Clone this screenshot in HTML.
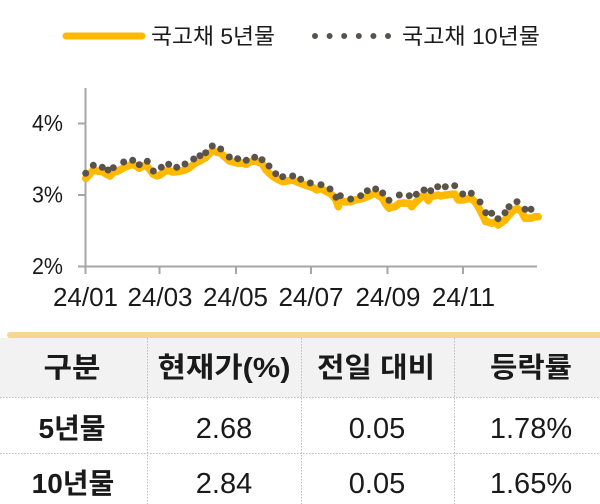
<!DOCTYPE html>
<html><head><meta charset="utf-8"><style>
html,body{margin:0;padding:0;background:#fff;}
svg{display:block;}
text{font-family:"Liberation Sans","Noto Sans CJK KR",sans-serif;fill:#1a1a1a;}
</style></head><body>
<svg width="600" height="504" viewBox="0 0 600 504" xmlns="http://www.w3.org/2000/svg">
<rect width="600" height="504" fill="#fff"/>
<!-- legend -->
<line x1="66" y1="36" x2="142" y2="36" stroke="#ffb900" stroke-width="7" stroke-linecap="round"/>
<text x="151" y="44" font-size="22" textLength="124" lengthAdjust="spacingAndGlyphs">국고채 5년물</text>
<g fill="#5a534b">
<circle cx="315" cy="36" r="3"/><circle cx="329.6" cy="36" r="3"/><circle cx="344.2" cy="36" r="3"/><circle cx="358.8" cy="36" r="3"/><circle cx="373.4" cy="36" r="3"/><circle cx="388" cy="36" r="3"/>
</g>
<text x="402" y="44" font-size="22" textLength="138" lengthAdjust="spacingAndGlyphs">국고채 10년물</text>

<!-- axes -->
<g stroke="#a6a6a6" stroke-width="2" fill="none">
<line x1="85.5" y1="88" x2="85.5" y2="267"/>
<line x1="84.5" y1="266.5" x2="537" y2="266.5"/>
<line x1="78" y1="123.5" x2="85.5" y2="123.5"/>
<line x1="78" y1="195" x2="85.5" y2="195"/>
<line x1="78" y1="266.5" x2="85.5" y2="266.5"/>
<line x1="85.5" y1="266" x2="85.5" y2="274"/>
<line x1="159.5" y1="266" x2="159.5" y2="274"/>
<line x1="236" y1="266" x2="236" y2="274"/>
<line x1="311" y1="266" x2="311" y2="274"/>
<line x1="387.5" y1="266" x2="387.5" y2="274"/>
<line x1="463" y1="266" x2="463" y2="274"/>
</g>
<g font-size="23" text-anchor="end">
<text x="63" y="131" textLength="31" lengthAdjust="spacingAndGlyphs">4%</text>
<text x="63" y="202.5" textLength="31" lengthAdjust="spacingAndGlyphs">3%</text>
<text x="63" y="274" textLength="31" lengthAdjust="spacingAndGlyphs">2%</text>
</g>
<g font-size="26" text-anchor="middle">
<text x="85.5" y="306">24/01</text>
<text x="160" y="306">24/03</text>
<text x="235.5" y="306">24/05</text>
<text x="311" y="306">24/07</text>
<text x="388" y="306">24/09</text>
<text x="463.5" y="306">24/11</text>
</g>

<!-- 5y series -->
<polyline fill="none" stroke="#ffb900" stroke-width="7.5" stroke-linejoin="round" stroke-linecap="round" points="85.7,178.3 88,176 93.3,170 97,171 102.3,171.7 106,174 110,176 113.3,172.3 118,171 123.7,167.7 128,166 132.7,164.3 136,166 139.3,168.3 143,166 146.7,165.7 150,170 153.3,174.3 157,176 160,175 164,172 168.7,170 172,172 176.7,171.7 181,171 185,170 189,168 193.7,164.3 197,162 200,161 203,159 205.7,157.7 209,154 212.3,151 216,152 220.7,153.3 225,157 229.3,161 233,162 237.7,163.3 242,163 246.3,164.3 250,162 254.7,161 258,162 262,163.3 266,170 270,174 275.7,178.3 279,180 282.7,181.7 287,181 292.7,180 297,182 300.7,183.3 305,185 310.3,186.7 314,188 316.7,190 321,188.3 325,191 330,193.3 333,196 336,200 338.3,206.7 340.3,200 345,202 350.7,201.7 355,200 360.7,199 364,198 367.3,196.7 371,195 375.7,193.3 379,196 382.7,198.3 385,203 387.7,206.7 389,208.3 392,207 395,206.7 399.3,203.3 404,203 409.3,203.3 411.7,206.7 414,204 416.3,201.7 420,198 424,195 426,197 428.3,200.7 430.7,196.7 434,196 437.7,195 441,196 445.3,195 450,194.5 454.7,194 458.3,200 462.7,200 467,199 471.3,198.3 476,203 480,210 483,216 485.7,221.7 488,222 491.7,223.3 495,222 498,225 501,223 505,220 509,215 513,211 517,208.3 521.7,211.7 525,218.3 528,218 531,218.3 535,216.7 538.3,216.7"/>

<!-- 10y series dots -->
<g fill="#5a534b">
<circle cx="85.7" cy="173.3" r="3.5"/><circle cx="93.3" cy="165.3" r="3.5"/><circle cx="102.3" cy="167.3" r="3.5"/><circle cx="108" cy="170" r="3.5"/><circle cx="113.3" cy="167.7" r="3.5"/><circle cx="123.7" cy="162" r="3.5"/><circle cx="132.7" cy="160.3" r="3.5"/><circle cx="139.3" cy="164.7" r="3.5"/><circle cx="147.3" cy="161.3" r="3.5"/><circle cx="153.3" cy="171" r="3.5"/><circle cx="161.3" cy="167.3" r="3.5"/><circle cx="168.7" cy="164.3" r="3.5"/><circle cx="176.7" cy="167.3" r="3.5"/><circle cx="185" cy="164" r="3.5"/><circle cx="193.7" cy="159" r="3.5"/><circle cx="200" cy="155.7" r="3.5"/><circle cx="205.7" cy="152.7" r="3.5"/><circle cx="212.3" cy="146" r="3.5"/><circle cx="220.7" cy="149" r="3.5"/><circle cx="229.3" cy="157" r="3.5"/><circle cx="237.7" cy="158.7" r="3.5"/><circle cx="246.3" cy="160.3" r="3.5"/><circle cx="254.7" cy="157.3" r="3.5"/><circle cx="262" cy="159.7" r="3.5"/><circle cx="269" cy="166" r="3.5"/><circle cx="275.7" cy="173.7" r="3.5"/><circle cx="282.7" cy="176.7" r="3.5"/><circle cx="292.7" cy="176" r="3.5"/><circle cx="300.7" cy="179.3" r="3.5"/><circle cx="310.3" cy="183" r="3.5"/><circle cx="321" cy="184.7" r="3.5"/><circle cx="330" cy="189" r="3.5"/><circle cx="336" cy="197.3" r="3.5"/><circle cx="340.3" cy="195.7" r="3.5"/><circle cx="350.7" cy="199" r="3.5"/><circle cx="360.7" cy="195.7" r="3.5"/><circle cx="367.3" cy="190.7" r="3.5"/><circle cx="375.7" cy="189" r="3.5"/><circle cx="382.7" cy="193" r="3.5"/><circle cx="389" cy="200.3" r="3.5"/><circle cx="399.3" cy="195" r="3.5"/><circle cx="409.3" cy="195.7" r="3.5"/><circle cx="416.3" cy="194.3" r="3.5"/><circle cx="424" cy="190" r="3.5"/><circle cx="430.7" cy="190.7" r="3.5"/><circle cx="437.7" cy="186.7" r="3.5"/><circle cx="445.3" cy="186.7" r="3.5"/><circle cx="454.7" cy="185.7" r="3.5"/><circle cx="462.7" cy="194" r="3.5"/><circle cx="471.3" cy="193.3" r="3.5"/><circle cx="480" cy="202" r="3.5"/><circle cx="485.7" cy="212.7" r="3.5"/><circle cx="491.7" cy="213.3" r="3.5"/><circle cx="498" cy="218.7" r="3.5"/><circle cx="505" cy="212.7" r="3.5"/><circle cx="509" cy="206.7" r="3.5"/><circle cx="517" cy="201.7" r="3.5"/><circle cx="525" cy="209.3" r="3.5"/><circle cx="531" cy="209.3" r="3.5"/>
</g>

<!-- table -->
<rect x="7" y="332" width="600" height="6" rx="3" fill="#f6d693"/>
<rect x="0" y="338" width="600" height="59" fill="#f2f2f2"/>
<g stroke="#bdbdbd" stroke-width="1" stroke-dasharray="1.5,1.5">
<line x1="0" y1="397.5" x2="600" y2="397.5"/>
<line x1="0" y1="453.5" x2="600" y2="453.5"/>
<line x1="147.5" y1="338" x2="147.5" y2="504"/>
<line x1="301.5" y1="338" x2="301.5" y2="504"/>
<line x1="454.5" y1="338" x2="454.5" y2="504"/>
</g>
<g font-size="28" font-weight="bold" text-anchor="middle">
<text x="72" y="377" textLength="57" lengthAdjust="spacingAndGlyphs">구분</text>
<text x="224" y="377" textLength="133" lengthAdjust="spacingAndGlyphs">현재가(%)</text>
<text x="376" y="377" textLength="118" lengthAdjust="spacingAndGlyphs">전일 대비</text>
<text x="531" y="377" textLength="82" lengthAdjust="spacingAndGlyphs">등락률</text>
<text x="72" y="438">5년물</text>
<text x="73" y="493">10년물</text>
</g>
<g font-size="29" text-anchor="middle">
<text x="224" y="438">2.68</text>
<text x="377" y="438">0.05</text>
<text x="531" y="438">1.78%</text>
<text x="224" y="493">2.84</text>
<text x="377" y="493">0.05</text>
<text x="531" y="493">1.65%</text>
</g>
</svg>
</body></html>
